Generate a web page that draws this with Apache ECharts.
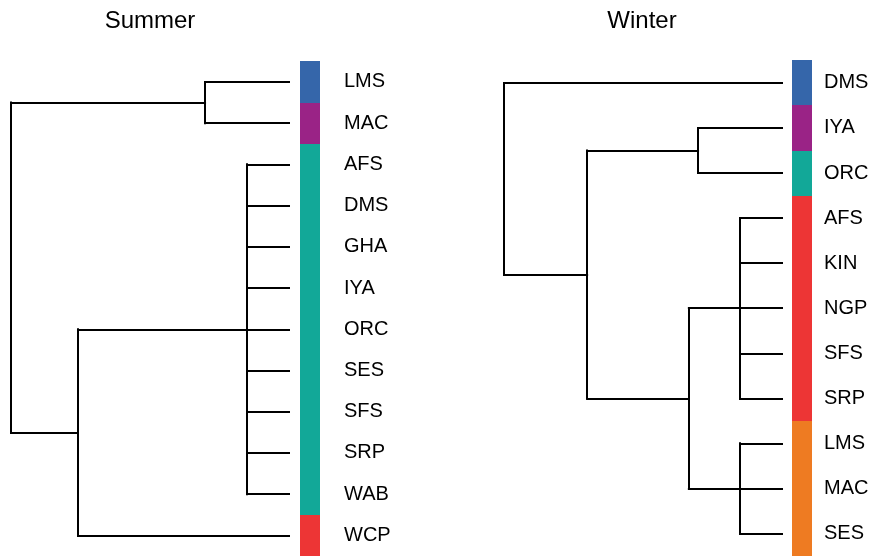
<!DOCTYPE html>
<html>
<head>
<meta charset="utf-8">
<title>Summer / Winter clustering</title>
<script src="https://cdn.jsdelivr.net/npm/echarts@6/dist/echarts.min.js"></script>
<style>
  html, body { margin: 0; padding: 0; background: #fff; }
  #chart { width: 875px; height: 556px; }
</style>
</head>
<body>
<div id="chart"></div>
<script>
// Summer dendrogram: leaf order (top to bottom) and cluster membership
const summerLeaves = ['LMS', 'MAC', 'AFS', 'DMS', 'GHA', 'IYA', 'ORC', 'SES', 'SFS', 'SRP', 'WAB', 'WCP'];
const summerGroups = [0, 1, 2, 2, 2, 2, 2, 2, 2, 2, 2, 3];
const summerColors = ['#3566aa', '#9a2386', '#12a898', '#ed3535'];
// merges: [height, children...]; strings are leaves, numbers refer to earlier merges
const summerMerges = [
  [0.302, 'LMS', 'MAC'],
  [0.151, 'AFS', 'DMS', 'GHA', 'IYA', 'ORC', 'SES', 'SFS', 'SRP', 'WAB'],
  [0.759, 1, 'WCP'],
  [1.000, 0, 2]
];

// Winter dendrogram
const winterLeaves = ['DMS', 'IYA', 'ORC', 'AFS', 'KIN', 'NGP', 'SFS', 'SRP', 'LMS', 'MAC', 'SES'];
const winterGroups = [0, 1, 2, 3, 3, 3, 3, 3, 4, 4, 4];
const winterColors = ['#3566aa', '#9a2386', '#12a898', '#ed3535', '#ee7b22'];
const winterMerges = [
  [0.302, 'IYA', 'ORC'],
  [0.151, 'AFS', 'KIN', 'NGP', 'SFS', 'SRP'],
  [0.151, 'LMS', 'MAC', 'SES'],
  [0.335, 1, 2],
  [0.701, 0, 3],
  [1.000, 'DMS', 4]
];

const panelTitles = ['Summer', 'Winter'];

// Turn merge list into elbow segments in (height, leaf position) space
function dendroSegments(leaves, merges) {
  const nodes = [];
  const segs = [];
  merges.forEach(function (m) {
    const h = m[0];
    const kids = m.slice(1).map(function (c) {
      return typeof c === 'string' ? { h: 0, y: leaves.indexOf(c) } : nodes[c];
    });
    const ys = kids.map(function (k) { return k.y; });
    const yMin = Math.min.apply(null, ys);
    const yMax = Math.max.apply(null, ys);
    segs.push({ coords: [[h, yMin], [h, yMax]] });
    kids.forEach(function (k) {
      segs.push({ coords: [[h, k.y], [k.h, k.y]] });
    });
    nodes.push({ h: h, y: (ys[0] + ys[ys.length - 1]) / 2 });
  });
  return segs;
}

// Colour band beside each leaf plus its label
function bandSeries(leaves, groups, colors, idx, barGap, labelGap) {
  return {
    type: 'custom',
    xAxisIndex: idx,
    yAxisIndex: idx,
    silent: true,
    data: leaves.map(function (name, i) { return [0, i, groups[i]]; }),
    renderItem: function (params, api) {
      const i = api.value(1);
      const g = api.value(2);
      const top = api.coord([0, i - 0.5]);
      const bot = api.coord([0, i + 0.5]);
      const mid = api.coord([0, i]);
      // overlap the next cell slightly when it has the same colour so no seam shows
      const sameNext = i + 1 < groups.length && groups[i + 1] === g;
      const y0 = Math.round(top[1]);
      const y1 = Math.round(bot[1]) + (sameNext ? 1 : 0);
      return {
        type: 'group',
        children: [
          {
            type: 'rect',
            shape: { x: Math.round(top[0]) + barGap, y: y0, width: 20, height: y1 - y0 },
            style: { fill: colors[g] }
          },
          {
            type: 'text',
            style: {
              text: leaves[i],
              x: mid[0] + labelGap,
              y: mid[1],
              fill: '#000',
              fontSize: 20,
              fontFamily: '"Liberation Sans", Arial, sans-serif',
              align: 'left',
              verticalAlign: 'middle'
            }
          }
        ]
      };
    }
  };
}

function treeSeries(leaves, merges, idx) {
  return {
    type: 'lines',
    coordinateSystem: 'cartesian2d',
    xAxisIndex: idx,
    yAxisIndex: idx,
    silent: true,
    lineStyle: { color: '#000', width: 2, opacity: 1, cap: 'square' },
    data: dendroSegments(leaves, merges)
  };
}

const chart = echarts.init(document.getElementById('chart'), null, { renderer: 'canvas' });

const font = '"Liberation Sans", Arial, sans-serif';

chart.setOption({
  animation: false,
  backgroundColor: '#fff',
  title: [
    { text: panelTitles[0], left: 150, top: 9, textAlign: 'center', padding: 0,
      textStyle: { fontSize: 24, fontWeight: 'normal', color: '#000', fontFamily: font } },
    { text: panelTitles[1], left: 642, top: 9, textAlign: 'center', padding: 0,
      textStyle: { fontSize: 24, fontWeight: 'normal', color: '#000', fontFamily: font } }
  ],
  grid: [
    { left: 11, top: 61.3, width: 278, height: 497.4 },
    { left: 504, top: 60.4, width: 278, height: 497.2 }
  ],
  xAxis: [
    { gridIndex: 0, type: 'value', min: 0, max: 1, inverse: true, show: false },
    { gridIndex: 1, type: 'value', min: 0, max: 1, inverse: true, show: false }
  ],
  yAxis: [
    { gridIndex: 0, type: 'value', min: -0.5, max: summerLeaves.length - 0.5, inverse: true, show: false },
    { gridIndex: 1, type: 'value', min: -0.5, max: winterLeaves.length - 0.5, inverse: true, show: false }
  ],
  series: [
    bandSeries(summerLeaves, summerGroups, summerColors, 0, 11, 55),
    treeSeries(summerLeaves, summerMerges, 0),
    bandSeries(winterLeaves, winterGroups, winterColors, 1, 10, 42),
    treeSeries(winterLeaves, winterMerges, 1)
  ]
});
</script>
</body>
</html>
